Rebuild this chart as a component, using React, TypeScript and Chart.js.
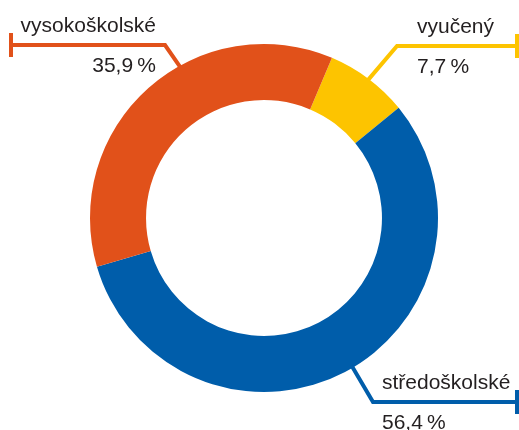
import React, { useEffect, useRef } from "react";
import { Chart, registerables } from "chart.js";

Chart.register(...registerables);

const categories = ["vyučený", "středoškolské", "vysokoškolské"];
const values = [7.7, 56.4, 35.9];
const valueLabels = ["7,7\u2009%", "56,4\u2009%", "35,9\u2009%"];
const colors = ["#FDC400", "#005DAA", "#E1511A"];

// leader-line layout (angle in degrees clockwise from top, pixel positions)
const leaders = [
  { angle: 37, elbow: [397, 46], end: [517, 46], align: "left", textX: 417, nameY: 33, valueY: 73 },
  { angle: 149.3, elbow: [373, 402], end: [517, 402], align: "left", textX: 382, nameY: 389, valueY: 429 },
  { angle: 331, elbow: [165, 45], end: [11, 45], align: "right", textX: 156, nameY: 32, valueY: 72 },
];

const leaderPlugin = {
  id: "leaders",
  afterDatasetsDraw(chart: any) {
    const ctx = chart.ctx;
    const meta = chart.getDatasetMeta(0);
    const arc = meta.data[0] as any;
    const cx = arc.x;
    const cy = arc.y;
    const R = arc.outerRadius - 2;
    ctx.save();
    leaders.forEach((l, i) => {
      const a = (l.angle * Math.PI) / 180;
      const sx = cx + R * Math.sin(a);
      const sy = cy - R * Math.cos(a);
      ctx.strokeStyle = colors[i];
      ctx.lineWidth = 4;
      ctx.lineJoin = "miter";
      ctx.lineCap = "butt";
      ctx.beginPath();
      ctx.moveTo(sx, sy);
      ctx.lineTo(l.elbow[0], l.elbow[1]);
      ctx.lineTo(l.end[0], l.end[1]);
      ctx.stroke();
      ctx.lineWidth = 4;
      ctx.beginPath();
      ctx.moveTo(l.end[0], l.end[1] - 12);
      ctx.lineTo(l.end[0], l.end[1] + 12);
      ctx.stroke();
      ctx.fillStyle = "#231F20";
      ctx.font = "21px 'Liberation Sans', Arial, sans-serif";
      ctx.textAlign = l.align as CanvasTextAlign;
      ctx.textBaseline = "alphabetic";
      ctx.fillText(categories[i], l.textX, l.nameY);
      ctx.fillText(valueLabels[i], l.textX, l.valueY);
    });
    ctx.restore();
  },
};

export default function App() {
  const ref = useRef<HTMLCanvasElement>(null);
  useEffect(() => {
    if (!ref.current) return;
    const chart = new Chart(ref.current, {
      type: "doughnut",
      data: {
        labels: categories,
        datasets: [
          {
            data: values,
            backgroundColor: colors,
            borderWidth: 0,
          },
        ],
      },
      options: {
        responsive: false,
        maintainAspectRatio: false,
        animation: false,
        rotation: 23,
        cutout: "67.8%",
        layout: { padding: { left: 90, right: 81, top: 44, bottom: 38 } },
        plugins: { legend: { display: false }, tooltip: { enabled: false } },
      },
      plugins: [leaderPlugin],
    });
    return () => chart.destroy();
  }, []);
  return (
    <div style={{ position: "fixed", left: 0, top: 0, width: 519, height: 430, background: "#fff" }}>
      <canvas ref={ref} width={519} height={430} style={{ width: 519, height: 430 }} />
    </div>
  );
}
